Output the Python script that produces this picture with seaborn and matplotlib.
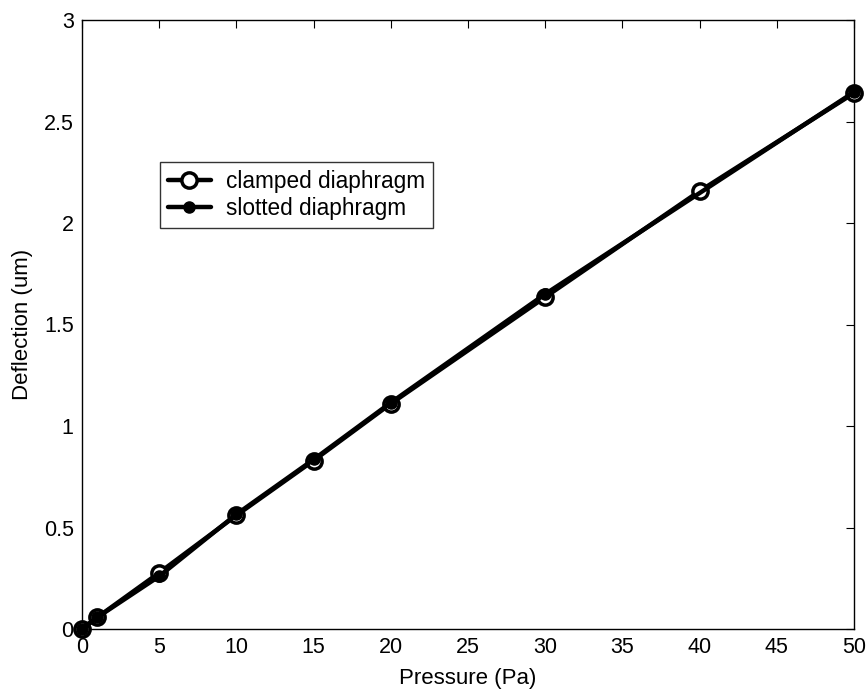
import matplotlib
matplotlib.use("Agg")
import matplotlib.pyplot as plt
import seaborn as sns
import pandas as pd

# Data
clamped_x = [0, 1, 5, 10, 15, 20, 30, 40, 50]
clamped_y = [0.0, 0.058, 0.277, 0.56, 0.83, 1.11, 1.635, 2.157, 2.64]
slotted_x = [0, 1, 5, 10, 15, 20, 30, 50]
slotted_y = [0.0, 0.058, 0.26, 0.565, 0.835, 1.115, 1.65, 2.645]
x_ticks = [0, 5, 10, 15, 20, 25, 30, 35, 40, 45, 50]
y_ticks = [0, 0.5, 1, 1.5, 2, 2.5, 3]
y_tick_labels = ["0", "0.5", "1", "1.5", "2", "2.5", "3"]

sns.set_style("white")
plt.rcParams['font.family'] = ['Liberation Sans', 'DejaVu Sans']
plt.rcParams['text.color'] = 'black'
plt.rcParams['axes.labelcolor'] = 'black'

fig = plt.figure(figsize=(8.68, 6.91), dpi=100)
ax = fig.add_axes([82/868, 1 - 629/691, (854-82)/868, (629-20)/691])

df_c = pd.DataFrame({"x": clamped_x, "y": clamped_y})
df_s = pd.DataFrame({"x": slotted_x, "y": slotted_y})

sns.lineplot(data=df_c, x="x", y="y", ax=ax, color="black", linewidth=3.2,
             marker="o", markersize=11, markerfacecolor="white",
             markeredgecolor="black", markeredgewidth=2.5,
             label="clamped diaphragm", zorder=3, clip_on=False)
sns.lineplot(data=df_s, x="x", y="y", ax=ax, color="black", linewidth=3.2,
             marker="o", markersize=8, markerfacecolor="black",
             markeredgecolor="black", markeredgewidth=1,
             label="slotted diaphragm", zorder=4, clip_on=False)

ax.set_xlim(0, 50)
ax.set_ylim(0, 3)
ax.set_xticks(x_ticks)
ax.set_xticklabels([str(t) for t in x_ticks])
ax.set_yticks(y_ticks)
ax.set_yticklabels(y_tick_labels)
ax.tick_params(direction="in", top=True, right=True, length=6, width=0.8,
               labelsize=15.5, colors="black", pad=6)
for s in ax.spines.values():
    s.set_color("black")
    s.set_linewidth(1.0)
ax.set_xlabel("Pressure (Pa)", fontsize=16, labelpad=7)
ax.set_ylabel("Deflection (um)", fontsize=16, labelpad=8)

leg = ax.legend(loc="lower left", bbox_to_anchor=(0.101, 0.658),
                borderaxespad=0, fancybox=False, frameon=True,
                fontsize=16.3, handlelength=1.9, handletextpad=0.65,
                borderpad=0.35, labelspacing=0.2)
leg.get_frame().set_edgecolor("black")
leg.get_frame().set_linewidth(1.0)

fig.savefig("out.png", dpi=100)
